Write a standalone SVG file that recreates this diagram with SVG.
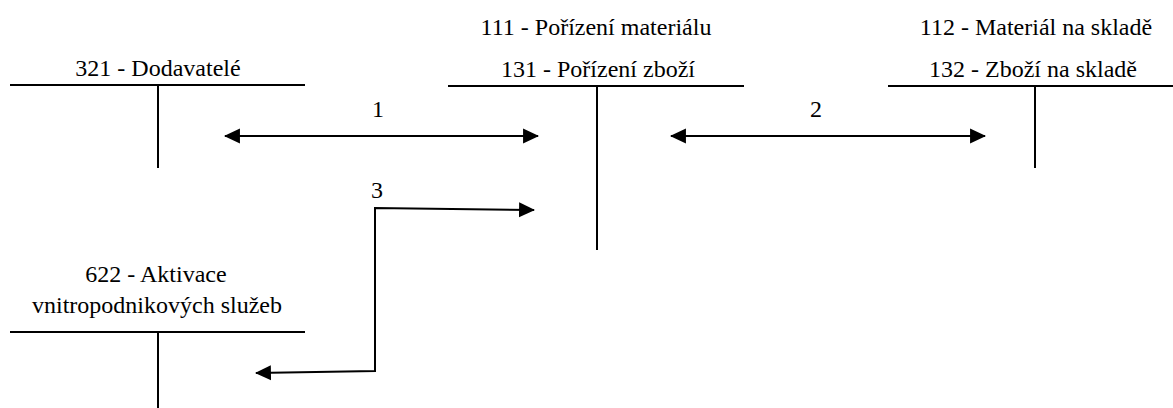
<svg xmlns="http://www.w3.org/2000/svg" width="1173" height="408" viewBox="0 0 1173 408">
  <style>
    text { font-size: 24px; fill: #000; text-anchor: middle; }
    .acc { stroke: #000; stroke-width: 2; fill: none; }
    .flow { stroke: #000; stroke-width: 2; fill: none; }
  </style>
  <defs>
    <marker id="head" markerUnits="userSpaceOnUse" markerWidth="16" markerHeight="16" viewBox="0 0 15 14" refX="14" refY="7" orient="auto-start-reverse">
      <path d="M0,0 L15,7 L0,14 z" fill="#000"/>
    </marker>
  </defs>
  <rect width="1173" height="408" fill="#fff"/>

  <!-- T-accounts -->
  <g id="acc-321">
    <text x="158" y="76" font-family="serif">321 - Dodavatelé</text>
    <line class="acc" x1="10" y1="85" x2="305" y2="85"/>
    <line class="acc" x1="158" y1="85" x2="158" y2="168"/>
  </g>
  <g id="acc-111-131">
    <text x="596" y="35" font-family="serif">111 - Pořízení materiálu</text>
    <text x="598" y="77" font-family="serif">131 - Pořízení zboží</text>
    <line class="acc" x1="448" y1="86" x2="744" y2="86"/>
    <line class="acc" x1="597" y1="86" x2="597" y2="250"/>
  </g>
  <g id="acc-112-132">
    <text x="1036" y="35" font-family="serif">112 - Materiál na skladě</text>
    <text x="1033" y="77" font-family="serif">132 - Zboží na skladě</text>
    <line class="acc" x1="888" y1="86" x2="1173" y2="86"/>
    <line class="acc" x1="1035" y1="86" x2="1035" y2="168"/>
  </g>
  <g id="acc-622">
    <text x="156" y="282" font-family="serif">622 - Aktivace</text>
    <text x="157" y="313" font-family="serif">vnitropodnikových služeb</text>
    <line class="acc" x1="10" y1="332" x2="305" y2="332"/>
    <line class="acc" x1="158" y1="332" x2="158" y2="408"/>
  </g>

  <!-- Postings between accounts -->
  <g id="connectors">
    <line class="flow" x1="225" y1="136" x2="538" y2="136" marker-start="url(#head)" marker-end="url(#head)"/>
    <text x="378" y="117" font-family="serif">1</text>
    <line class="flow" x1="671" y1="136" x2="985" y2="136" marker-start="url(#head)" marker-end="url(#head)"/>
    <text x="816" y="117" font-family="serif">2</text>
    <polyline class="flow" points="534,210 375,208 375,371 256,373" marker-start="url(#head)" marker-end="url(#head)"/>
    <text x="377" y="198" font-family="serif">3</text>
  </g>
</svg>
